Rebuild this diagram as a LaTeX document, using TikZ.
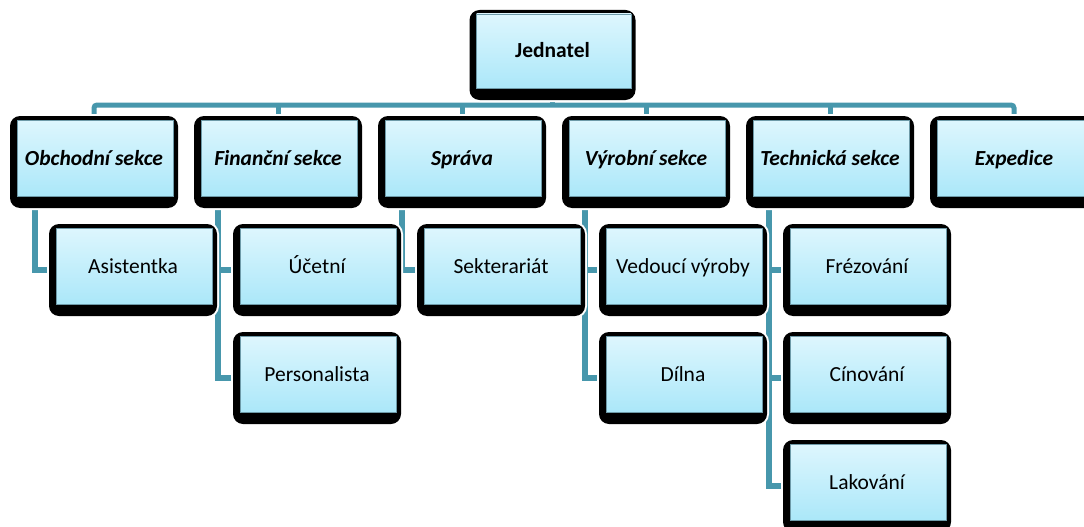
\documentclass[tikz,border=0pt]{standalone}
\usepackage{fontspec}
\setmainfont{Carlito}
\definecolor{boxtop}{HTML}{E0F7FE}
\definecolor{boxbot}{HTML}{A3E5F8}
\definecolor{boxedge}{HTML}{6E9AA8}
\definecolor{linkcol}{HTML}{4797AC}
\pgfdeclarelayer{links}
\pgfsetlayers{links,main}
\tikzset{
  orgbox/.style={rectangle, rounded corners=10pt, fill=black,
    minimum width=168pt, minimum height=92pt, inner sep=0pt,
    text height=10pt, text depth=4pt,
    font=\fontsize{21.5}{24}\selectfont,
    preaction={draw=white, line width=4pt},
    path picture={
      \shade[top color=boxtop, bottom color=boxbot, draw=boxedge, line width=0.8pt, sharp corners]
        ([xshift=7pt,yshift=12pt]path picture bounding box.south west) rectangle
        ([xshift=-4.5pt,yshift=-4pt]path picture bounding box.north east);
    }},
  headbox/.style={orgbox, minimum width=166pt, minimum height=90pt,
    font=\fontsize{21.5}{24}\selectfont\bfseries},
  secbox/.style={orgbox, font=\fontsize{21.5}{24}\selectfont\bfseries\itshape},
  conn/.style={draw=linkcol, line width=5.5pt},
}
\begin{document}
\begin{tikzpicture}[x=1pt, y=1pt]
\useasboundingbox (0,0) rectangle (1084,-527);
\coordinate (bar) at (0,-105);

% boxes
\node[headbox] (jed) at (552.5,-55) {Jednatel};
\node[secbox] (obch) at (94,-162)   {Obchodní sekce};
\node[secbox] (fin)  at (278,-162)  {Finanční sekce};
\node[secbox] (spr)  at (462,-162)  {Správa};
\node[secbox] (vyr)  at (646,-162)  {Výrobní sekce};
\node[secbox] (tech) at (830,-162)  {Technická sekce};
\node[secbox] (exp)  at (1014,-162) {Expedice};

\node[orgbox] (asis) at (133,-270) {Asistentka};
\node[orgbox] (uct)  at (317,-270) {Účetní};
\node[orgbox] (pers) at (317,-378) {Personalista};
\node[orgbox] (sekr) at (501,-270) {Sekterariát};
\node[orgbox] (ved)  at (683,-270) {Vedoucí výroby};
\node[orgbox] (dil)  at (683,-378) {Dílna};
\node[orgbox] (frez) at (867,-270) {Frézování};
\node[orgbox] (cin)  at (867,-378) {Cínování};
\node[orgbox] (lak)  at (867,-486) {Lakování};

% connector lines, kept behind the boxes
\begin{pgfonlayer}{links}
  \draw[conn, line width=5pt] (jed.south) -- (jed.south |- bar);
  \draw[conn, line width=5pt, rounded corners=3pt]
    (obch.north) -- (obch.north |- bar) -| (exp.north);
  \foreach \n in {fin,spr,vyr,tech}
    \draw[conn, line width=5pt] (\n.north) -- (\n.north |- bar);
  \draw[conn] ([xshift=-59pt]obch.south) |- (asis.west);
  \draw[conn] ([xshift=-60pt]fin.south) |- (uct.west);
  \draw[conn] ([xshift=-60pt]fin.south) |- (pers.west);
  \draw[conn] ([xshift=-60pt]spr.south) |- (sekr.west);
  \draw[conn] ([xshift=-61pt]vyr.south) |- (ved.west);
  \draw[conn] ([xshift=-61pt]vyr.south) |- (dil.west);
  \draw[conn] ([xshift=-61pt]tech.south) |- (frez.west);
  \draw[conn] ([xshift=-61pt]tech.south) |- (cin.west);
  \draw[conn] ([xshift=-61pt]tech.south) |- (lak.west);
\end{pgfonlayer}
\end{tikzpicture}
\end{document}
